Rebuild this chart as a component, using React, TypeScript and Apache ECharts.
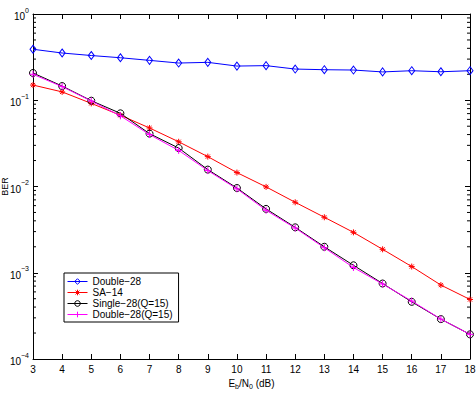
import React, { useEffect, useRef } from "react";
import * as echarts from "echarts";

const EBN0 = [3, 4, 5, 6, 7, 8, 9, 10, 11, 12, 13, 14, 15, 16, 17, 18];
const DOUBLE28 = [0.39, 0.353, 0.33, 0.311, 0.29, 0.27, 0.275, 0.249, 0.252, 0.23, 0.226, 0.224, 0.213, 0.22, 0.214, 0.22];
const SA14 = [0.15, 0.125, 0.092, 0.067, 0.0477, 0.033, 0.0222, 0.0145, 0.0099, 0.00656, 0.0044, 0.00294, 0.00187, 0.00118, 0.00072, 0.00049];
const SINGLE28 = [0.207, 0.146, 0.0988, 0.0705, 0.041, 0.0279, 0.0157, 0.0096, 0.0055, 0.00336, 0.002, 0.00122, 0.00075, 0.00046, 0.00029, 0.000193];
const DOUBLE28Q = [0.2, 0.144, 0.098, 0.066, 0.04, 0.0262, 0.0153, 0.0094, 0.0053, 0.0033, 0.00195, 0.00115, 0.00074, 0.00047, 0.00029, 0.000193];
const NAMES = ["Double\u221228", "SA\u221214", "Single\u221228(Q=15)", "Double\u221228(Q=15)"];
const COLORS = ["#0000ff", "#ff0000", "#000000", "#ff00ff"];
const MINOR_TICKS: number[] = [];
for (let d = -4; d < 0; d++) for (let k = 2; k <= 9; k++) MINOR_TICKS.push(k * Math.pow(10, d));

const FONT = "'Liberation Sans', Arial, sans-serif";
const STAR = "path://M0,-1L0,1M-1,0L1,0M-0.7,-0.7L0.7,0.7M-0.7,0.7L0.7,-0.7";
const PLUS = "path://M0,-1L0,1M-1,0L1,0";
const SYMBOLS = ["diamond", STAR, "circle", PLUS];
const SIZES: any[] = [[6, 8], 6, 7, 7];

export default function App() {
  const ref = useRef<HTMLDivElement>(null);
  useEffect(() => {
    if (!ref.current) return;
    const chart = echarts.init(ref.current, null, { renderer: "svg" });
    const mk = (i: number, arr: number[]) => ({
      name: NAMES[i],
      type: "line",
      xAxisIndex: 0,
      yAxisIndex: 0,
      data: EBN0.map((x, j) => [x, arr[j]]),
      symbol: SYMBOLS[i],
      symbolSize: SIZES[i],
      showSymbol: true,
      color: COLORS[i],
      itemStyle: { color: "rgba(255,255,255,0)", borderColor: COLORS[i], borderWidth: 1 },
      lineStyle: { color: COLORS[i], width: 1 },
      emphasis: { disabled: true },
      z: 3 + i,
    });
    const supLabel = (v: number) => {
      const e = Math.round(Math.log10(v));
      return "{b|10}{s|" + (e < 0 ? "\u2212" + -e : String(e)) + "}";
    };
    const axisCommon = {
      axisLine: { show: true, onZero: false, lineStyle: { color: "#000", width: 1 } },
      axisTick: { show: true, inside: true, length: 5, lineStyle: { color: "#000" } },
      splitLine: { show: false },
    };
    chart.setOption({
      animation: false,
      grid: { left: 33, top: 14, right: 6, bottom: 46, containLabel: false, outerBoundsMode: "none" },
      legend: {
        data: NAMES.map((n, i) => ({
          name: n,
          itemStyle: { color: "rgba(255,255,255,0)", borderColor: COLORS[i], borderWidth: 1 },
          lineStyle: { color: COLORS[i], width: 1 },
        })),
        orient: "vertical",
        left: 64,
        top: 273,
        backgroundColor: "#fff",
        borderColor: "#000",
        borderWidth: 1,
        borderRadius: 0,
        padding: [3, 6, 2, 3],
        itemGap: 0,
        itemWidth: 20,
        itemHeight: 7,
        textStyle: { fontFamily: FONT, fontSize: 10, color: "#000", lineHeight: 11 },
      },
      xAxis: [
        {
          type: "value",
          min: 3,
          max: 18,
          interval: 1,
          position: "bottom",
          ...axisCommon,
          axisLabel: { fontFamily: FONT, fontSize: 10, color: "#000", margin: 5 },
          name: "E{sub|b}/N{sub|0} (dB)",
          nameLocation: "middle",
          nameGap: 18,
          nameMoveOverlap: false,
          nameTextStyle: {
            fontFamily: FONT,
            fontSize: 10,
            color: "#000",
            rich: { sub: { fontFamily: FONT, fontSize: 7, color: "#000", verticalAlign: "bottom", padding: [6, 0, 0, 0] } },
          },
        },
        {
          type: "value",
          min: 3,
          max: 18,
          interval: 1,
          position: "top",
          ...axisCommon,
          axisLabel: { show: false },
        },
      ],
      yAxis: [
        {
          type: "log",
          logBase: 10,
          min: 1e-4,
          max: 1,
          position: "left",
          ...axisCommon,
          axisLabel: {
            formatter: supLabel,
            margin: 4,
            rich: {
              b: { fontFamily: FONT, fontSize: 10, color: "#000", lineHeight: 15, verticalAlign: "bottom" },
              s: { fontFamily: FONT, fontSize: 7, color: "#000", lineHeight: 15, verticalAlign: "top" },
            },
          },
          name: "BER",
          nameLocation: "middle",
          nameGap: 24,
          nameRotate: 90,
          nameMoveOverlap: false,
          nameTextStyle: { fontFamily: FONT, fontSize: 9, color: "#000" },
        },
        {
          type: "log",
          logBase: 10,
          min: 1e-4,
          max: 1,
          position: "right",
          ...axisCommon,
          axisLabel: { show: false },
        },
      ],
      series: [
        mk(0, DOUBLE28),
        mk(1, SA14),
        mk(2, SINGLE28),
        mk(3, DOUBLE28Q),
        {
          type: "custom",
          name: "minorTicks",
          xAxisIndex: 0,
          yAxisIndex: 0,
          silent: true,
          clip: false,
          data: MINOR_TICKS.map((v) => [3, v]),
          encode: { x: 0, y: 1 },
          renderItem: (params: any, api: any) => {
            const v = api.value(1);
            const l = api.coord([3, v]);
            const r = api.coord([18, v]);
            const st = { stroke: "#000", lineWidth: 1 };
            return {
              type: "group",
              children: [
                { type: "line", shape: { x1: l[0], y1: l[1], x2: l[0] + 3, y2: l[1] }, style: st },
                { type: "line", shape: { x1: r[0] - 3, y1: r[1], x2: r[0], y2: r[1] }, style: st },
              ],
            };
          },
          z: 1,
        },
      ],
    });
    return () => chart.dispose();
  }, []);
  return <div ref={ref} style={{ position: "fixed", left: 0, top: 0, width: 476, height: 405, background: "#fff" }} />;
}
